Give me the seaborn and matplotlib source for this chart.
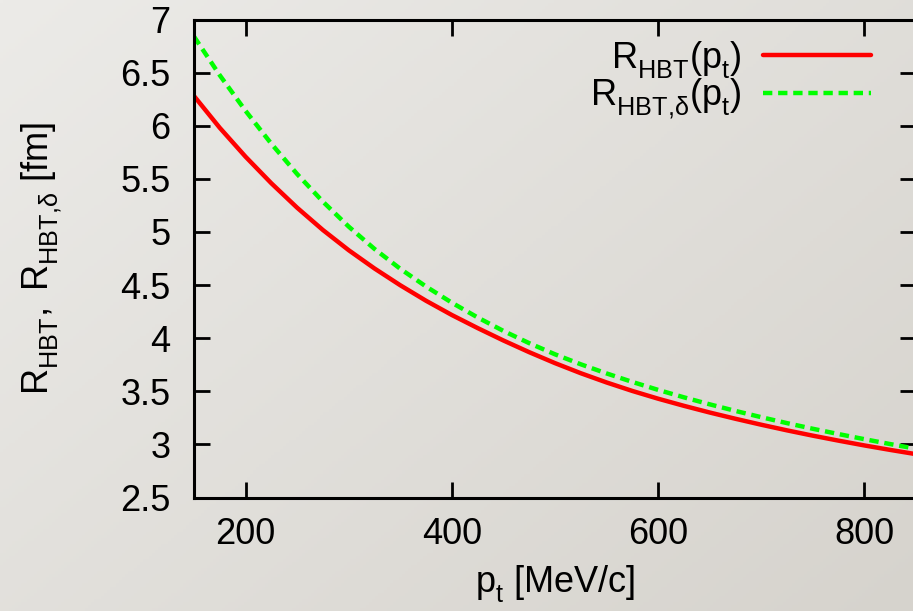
import numpy as np
import pandas as pd
import seaborn as sns
import matplotlib
matplotlib.use("Agg")
import matplotlib.pyplot as plt

# Transverse momentum grid [MeV/c] and HBT radii [fm]
pt = [150, 175, 200, 225, 250, 275, 300, 325, 350, 375, 400, 425, 450,
      475, 500, 525, 550, 575, 600, 625, 650, 675, 700, 725, 750, 775,
      800, 825, 850]
r_hbt = [6.280, 5.980, 5.708, 5.458, 5.228, 5.018, 4.828, 4.656, 4.498,
         4.352, 4.218, 4.095, 3.978, 3.868, 3.765, 3.670, 3.583, 3.503,
         3.430, 3.363, 3.300, 3.241, 3.185, 3.132, 3.082, 3.035, 2.990,
         2.948, 2.908]
r_hbt_delta = [6.840, 6.475, 6.140, 5.830, 5.545, 5.285, 5.050, 4.840,
               4.653, 4.486, 4.334, 4.195, 4.068, 3.953, 3.848, 3.754,
               3.668, 3.588, 3.513, 3.443, 3.377, 3.315, 3.256, 3.200,
               3.147, 3.097, 3.049, 3.003, 2.959]

x_ticks = [200, 400, 600, 800]
y_ticks = [2.5, 3, 3.5, 4, 4.5, 5, 5.5, 6, 6.5, 7]
y_tick_labels = ["2.5", "3", "3.5", "4", "4.5", "5", "5.5", "6", "6.5", "7"]

label_r = r"$\mathregular{R_{HBT}(p_t)}$"
label_rd = r"$\mathregular{R_{HBT{,}δ}(p_t)}$"

sns.set_theme(style="ticks")
plt.rcParams["font.family"] = ["Liberation Sans", "DejaVu Sans"]
plt.rcParams["mathtext.fontset"] = "custom"
plt.rcParams["mathtext.rm"] = "Liberation Sans"
plt.rcParams["mathtext.it"] = "Liberation Sans:italic"
plt.rcParams["mathtext.bf"] = "Liberation Sans:bold"
plt.rcParams["text.color"] = "black"
plt.rcParams["xtick.color"] = "black"
plt.rcParams["ytick.color"] = "black"
plt.rcParams["axes.labelcolor"] = "black"

# drop subscripts a little further below the baseline
try:
    from matplotlib import _mathtext
    _mathtext.FontConstantsBase.subdrop = 0.6
    _mathtext.FontConstantsBase.sub1 = 0.5
except Exception:
    pass

FS = 26
W, H = 913, 611
fig = plt.figure(figsize=(W / 100, H / 100), dpi=100)

# soft grey backdrop, slightly darker towards the lower right
bg = fig.add_axes([0, 0, 1, 1], zorder=-10)
yy, xx = np.mgrid[0:1:200j, 0:1:300j]
t = (0.55 * xx + 0.45 * yy)
c0 = np.array([236, 235, 232]) / 255.0
c1 = np.array([214, 211, 205]) / 255.0
img = c0[None, None, :] * (1 - t[..., None]) + c1[None, None, :] * t[..., None]
bg.imshow(img, aspect="auto", extent=[0, 1, 0, 1], origin="upper")
bg.set_axis_off()

left, right = 194 / W, 916 / W
bottom, top = 1 - 497.5 / H, 1 - 19.5 / H
ax = fig.add_axes([left, bottom, right - left, top - bottom])
ax.set_facecolor("none")

df = pd.DataFrame({"pt": pt, "r": r_hbt, "rd": r_hbt_delta})
sns.lineplot(data=df, x="pt", y="r", ax=ax, color="#ff0000", lw=3.2,
             label=label_r)
sns.lineplot(data=df, x="pt", y="rd", ax=ax, color="#00ff00", lw=3.2,
             label=label_rd)
ax.lines[1].set_dashes([2.1, 1.3])

ax.set_xlim(150, 850)
ax.set_ylim(2.5, 7)
ax.set_xticks(x_ticks)
ax.set_yticks(y_ticks)
ax.set_yticklabels(y_tick_labels)

for s in ax.spines.values():
    s.set_visible(True)
    s.set_linewidth(2.2)
    s.set_color("black")
ax.tick_params(axis="both", which="major", direction="in", length=11.5,
               width=2.0, color="black", labelsize=FS, top=True, right=True)
ax.tick_params(axis="y", pad=17)
ax.tick_params(axis="x", pad=14)

ax.set_xlabel(r"$\mathregular{p_t}$ [MeV/c]", fontsize=FS, labelpad=8)
ax.set_ylabel(r"$\mathregular{R_{HBT},\ R_{HBT{,}δ}}$ [fm]", fontsize=FS,
              labelpad=40)

leg = ax.legend(loc="upper right", bbox_to_anchor=(871 / W, 1 - 39 / H),
                bbox_transform=fig.transFigure, frameon=False,
                markerfirst=False, fontsize=FS, handlelength=3.0,
                handletextpad=0.6, labelspacing=-0.1, borderpad=0,
                borderaxespad=0)

fig.savefig("out.png", dpi=100)
